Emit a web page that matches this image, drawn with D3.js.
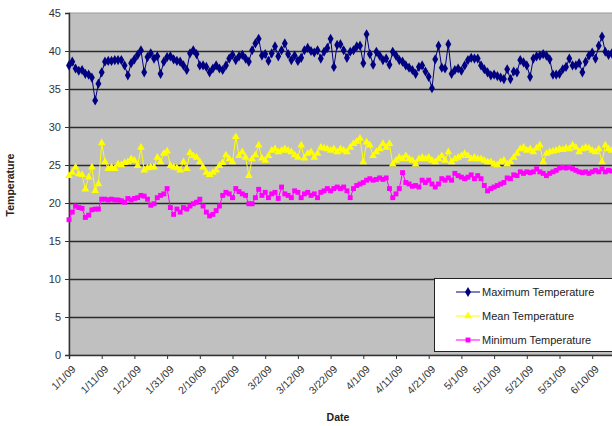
<!DOCTYPE html>
<html>
<head>
<meta charset="utf-8">
<script src="https://cdn.jsdelivr.net/npm/d3@7"></script>
<style>
  body { margin: 0; background: #fff; }
  svg { font-family: "Liberation Sans", Arial, sans-serif; }
</style>
</head>
<body>
<div id="chart"></div>
<script>
// daily readings starting 1/1/09
const startDate = "1/1/09";

const maxTemp = [
  38.1, 38.6, 37.7, 37.4, 37.5, 37.0, 36.9, 36.5, 33.5, 35.7, 37.2, 38.6, 38.7, 38.7, 38.8, 38.8, 38.8, 38.1, 36.8, 38.4,
  38.9, 39.5, 40.1, 37.2, 39.2, 39.7, 39.0, 39.3, 37.0, 38.6, 39.2, 39.3, 38.9, 38.7, 38.6, 38.1, 37.5, 39.7, 40.1, 39.6,
  38.1,
  38.1, 37.9, 37.2, 37.7, 38.1, 37.7, 37.5, 38.1, 39.0, 39.5, 38.8, 39.3, 39.5, 39.0, 38.6, 40.1, 41.0, 41.6, 39.4, 39.6,
  38.7, 39.7, 40.6, 39.3, 40.1, 41.0, 39.6, 38.8, 39.4, 38.7, 39.1, 40.1, 40.4, 40.0, 39.8, 40.1, 39.0, 39.9, 40.4, 41.6,
  37.9, 40.8,
  40.9, 40.1, 39.1, 39.9, 40.1, 40.6, 40.7, 38.4, 42.2, 39.6, 38.2, 39.9, 39.4, 38.8, 39.0, 38.2, 39.9, 39.4, 38.8, 38.6,
  38.1, 37.8, 37.5, 37.0, 37.9, 38.1, 37.3, 36.6, 35.1, 38.9, 40.7, 37.8, 37.7, 40.9, 37.0, 37.5, 37.7, 37.4, 38.1, 38.8,
  39.1, 39.0,
  39.0, 38.1, 37.6, 37.2, 36.8, 36.9, 36.7, 36.5, 36.3, 37.6, 36.3, 37.3, 37.2, 38.8, 38.5, 38.1, 36.6, 39.0, 39.3, 39.4,
  39.6, 39.4, 38.9, 36.9, 36.9, 37.0, 37.6, 37.9, 39.0, 38.1, 38.1, 38.4, 37.2, 38.6, 39.4, 39.8, 39.0, 40.7, 41.9, 39.9,
  39.5, 39.7
];

const meanTemp = [
  23.6, 24.0, 24.7, 23.8, 23.7, 21.8, 23.4, 24.7, 21.6, 22.5, 27.9, 25.4, 24.5, 24.7, 24.5, 25.1, 25.0, 25.3, 25.4, 25.8,
  25.6, 24.9, 27.3, 24.3, 24.6, 24.7, 24.7, 26.0, 25.4, 26.5, 26.8, 24.9, 24.7, 24.6, 24.3, 25.4, 24.5, 26.6, 26.2, 26.0,
  25.4,
  24.7, 24.0, 23.7, 24.0, 24.3, 24.9, 25.3, 26.3, 25.8, 25.4, 28.7, 26.2, 26.7, 26.0, 23.6, 25.8, 26.3, 27.6, 25.9, 25.6,
  26.2, 26.9, 27.1, 26.7, 26.9, 27.1, 26.9, 26.7, 26.3, 26.0, 27.6, 25.9, 26.5, 26.7, 26.0, 26.5, 27.3, 27.2, 27.1, 26.9,
  27.1, 26.7,
  27.1, 26.9, 26.7, 27.3, 27.8, 28.1, 28.5, 25.4, 28.0, 27.6, 26.2, 26.7, 27.1, 27.8, 27.3, 27.8, 25.1, 25.6, 26.0, 25.8,
  26.2, 25.8, 25.6, 25.1, 25.8, 26.0, 25.8, 26.0, 25.6, 25.4, 25.8, 26.2, 25.6, 26.7, 25.4, 25.8, 26.0, 26.2, 26.5, 26.2,
  25.8, 26.0, 25.8,
  25.8, 25.6, 25.4, 25.4, 25.1, 25.0, 25.4, 25.6, 25.1, 25.4, 26.0, 26.5, 27.1, 27.3, 26.9, 27.1, 26.7, 27.2, 27.6, 25.4,
  26.5, 26.7, 26.8, 26.9, 27.1, 27.0, 27.2, 27.1, 27.6, 27.3, 26.7, 27.1, 27.3, 27.2, 26.9, 26.7, 27.1, 25.4, 27.6, 27.1,
  26.9
];

const minTemp = [
  17.8, 18.8, 19.6, 19.4, 19.3, 18.1, 18.4, 19.1, 19.2, 19.2, 20.5, 20.5, 20.4, 20.5, 20.4, 20.4, 20.3, 20.1, 20.6, 20.4,
  20.6, 20.7, 21.0, 20.9, 20.5, 19.7, 19.9, 20.7, 21.0, 21.2, 21.9, 19.4, 18.5, 19.2, 18.8, 19.4, 19.2, 19.6, 19.9, 20.1,
  20.5,
  19.6, 18.8, 18.3, 18.5, 19.0, 19.6, 21.0, 21.4, 21.2, 20.7, 21.9, 21.5, 21.2, 21.0, 19.9, 19.9, 20.7, 21.8, 21.0, 21.4,
  20.7, 21.2, 21.4, 20.6, 22.1, 21.2, 21.0, 20.7, 21.6, 21.4, 20.7, 21.2, 21.4, 21.0, 21.2, 20.7, 21.4, 21.6, 21.9, 21.6,
  21.9, 22.1,
  21.9, 22.1, 21.6, 20.7, 21.9, 22.3, 22.5, 22.7, 23.0, 23.2, 23.0, 23.1, 23.3, 23.1, 23.3, 21.9, 20.7, 21.2, 21.9, 24.0,
  22.7, 22.5, 22.2, 22.3, 22.1, 23.0, 22.7, 23.0, 22.5, 22.1, 22.5, 23.2, 23.0, 23.3, 23.0, 23.9, 23.6, 23.4, 23.2, 23.4,
  23.7, 23.2,
  23.6, 23.2, 22.3, 21.6, 21.9, 22.1, 22.3, 22.5, 22.7, 23.3, 23.2, 23.7, 23.6, 24.1, 23.9, 24.1, 24.0, 24.1, 24.5, 24.1,
  23.9, 23.6, 23.9, 24.1, 24.3, 24.6, 24.7, 24.6, 24.7, 24.5, 24.3, 24.1, 24.0, 24.1, 23.9, 24.1, 24.3, 24.1, 24.5, 24.1,
  24.3, 24.2
];

const xTickLabels = ["1/1/09", "1/11/09", "1/21/09", "1/31/09", "2/10/09", "2/20/09", "3/2/09", "3/12/09",
  "3/22/09", "4/1/09", "4/11/09", "4/21/09", "5/1/09", "5/11/09", "5/21/09", "5/31/09", "6/10/09"];
const yTicks = [0, 5, 10, 15, 20, 25, 30, 35, 40, 45];

const seriesNames = ["Maximum Temperature", "Mean Temperature", "Minimum Temperature"];

const width = 612, height = 426;
const margin = { top: 13, left: 69, bottom: 71 };
const parseDate = d3.timeParse("%m/%d/%y");
const start = parseDate(startDate);
const pxPerDay = 3.27;
const nDays = 167;

const svg = d3.select("#chart").append("svg")
  .attr("width", width).attr("height", height);

const x = d3.scaleTime()
  .domain([start, d3.timeDay.offset(start, nDays)])
  .range([margin.left, margin.left + nDays * pxPerDay]);

const y = d3.scaleLinear()
  .domain([0, 45])
  .range([height - margin.bottom, margin.top]);

const x0 = x.range()[0], x1 = x.range()[1];

// plot area
svg.append("rect")
  .attr("x", x0).attr("y", y(45))
  .attr("width", x1 - x0).attr("height", y(0) - y(45))
  .attr("fill", "#c0c0c0")
  .attr("stroke", "#9a9a9a")
  .attr("stroke-width", 1);

// gridlines
svg.append("g").selectAll("line")
  .data(yTicks.filter(t => t > 0 && t < 45))
  .enter().append("line")
  .attr("x1", x0).attr("x2", x1)
  .attr("y1", d => Math.round(y(d)) + 0.5).attr("y2", d => Math.round(y(d)) + 0.5)
  .attr("stroke", "#2b2b2b").attr("stroke-width", 1.3);

// y axis
const yAxis = svg.append("g")
  .attr("transform", `translate(${x0},0)`)
  .call(d3.axisLeft(y).tickValues(yTicks).tickSize(4).tickPadding(4));
yAxis.select(".domain").attr("stroke", "#333").attr("stroke-width", 1.4);
yAxis.selectAll(".tick line").attr("stroke", "#333");
yAxis.selectAll("text").attr("font-size", 11).attr("fill", "#333");

// x axis
const tickDates = xTickLabels.map(parseDate);
const xAxis = svg.append("g")
  .attr("transform", `translate(0,${y(0)})`)
  .call(d3.axisBottom(x).tickValues(tickDates).tickSize(4)
    .tickFormat((d, i) => xTickLabels[i]));
xAxis.select(".domain").attr("stroke", "#333").attr("stroke-width", 1.4);
xAxis.selectAll(".tick line").attr("stroke", "#333");
xAxis.selectAll("text")
  .attr("font-size", 10.5).attr("fill", "#333")
  .attr("text-anchor", "end")
  .attr("dy", 0)
  .attr("transform", "translate(2,10) rotate(-45)");

// axis titles
svg.append("text")
  .attr("transform", "translate(14,185) rotate(-90)")
  .attr("text-anchor", "middle")
  .attr("font-size", 10.5).attr("font-weight", "bold").attr("fill", "#222")
  .text("Temperature");

svg.append("text")
  .attr("x", 338).attr("y", 421)
  .attr("text-anchor", "middle")
  .attr("font-size", 10.5).attr("font-weight", "bold").attr("fill", "#222")
  .text("Date");

// series
const series = [
  { name: seriesNames[0], values: maxTemp, color: "#000080", symbol: d3.symbolDiamond, size: 30 },
  { name: seriesNames[1], values: meanTemp, color: "#ffff00", symbol: d3.symbolTriangle, size: 26 },
  { name: seriesNames[2], values: minTemp, color: "#ff00ff", symbol: d3.symbolSquare, size: 24 }
];

const line = d3.line()
  .x((d, i) => x(d3.timeDay.offset(start, i)))
  .y(d => y(d));

series.forEach(s => {
  svg.append("path")
    .datum(s.values)
    .attr("fill", "none")
    .attr("stroke", s.color)
    .attr("stroke-width", 1)
    .attr("d", line);

  svg.append("g").selectAll("path")
    .data(s.values)
    .enter().append("path")
    .attr("transform", (d, i) => `translate(${x(d3.timeDay.offset(start, i))},${y(d)})`)
    .attr("d", d3.symbol().type(s.symbol).size(s.size))
    .attr("fill", s.color);
});

// legend
const legend = svg.append("g").attr("transform", "translate(434,278)");
legend.append("rect")
  .attr("x", 0.5).attr("y", 0.5)
  .attr("width", 190).attr("height", 73)
  .attr("fill", "#fff").attr("stroke", "#222").attr("stroke-width", 1);

const items = legend.selectAll(".item")
  .data(series)
  .enter().append("g")
  .attr("transform", (d, i) => `translate(0,${14 + i * 24})`);

items.append("line")
  .attr("x1", 22).attr("x2", 46)
  .attr("stroke", d => d.color).attr("stroke-width", 1);
items.append("path")
  .attr("transform", "translate(34,0)")
  .attr("d", d => d3.symbol().type(d.symbol).size(d.size)())
  .attr("fill", d => d.color);
items.append("text")
  .attr("x", 48).attr("y", 4)
  .attr("font-size", 11).attr("fill", "#222")
  .text(d => d.name);
</script>
</body>
</html>
